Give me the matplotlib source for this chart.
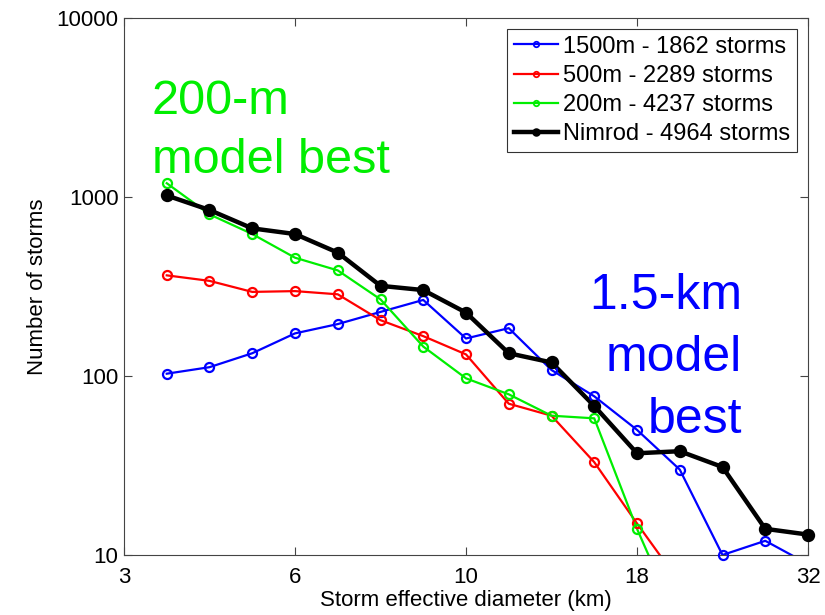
import numpy as np
import matplotlib.pyplot as plt

# diameter bins are plotted by bin number; ticks every 4 bins
bins = np.arange(1, 17)
tick_pos = [0, 4, 8, 12, 16]
tick_labels = ["3", "6", "10", "18", "32"]

nan = np.nan
storms_1500m = [103, 112, 134, 173, 195, 228, 266, 162, 185, 108, 77, 50, 30, 10, 12, 8.9]
storms_500m = [365, 340, 295, 298, 286, 205, 167, 132, 70, 60, 33, 15, 7, nan, nan, nan]
storms_200m = [1194, 800, 621, 458, 389, 268, 146, 97, 79, 60, 58, 14, 4, nan, nan, nan]
storms_nimrod = [1020, 846, 668, 621, 489, 319, 302, 226, 134, 119, 68, 37, 38, 31, 14, 13]

labels = ["1500m - 1862 storms", "500m - 2289 storms",
          "200m - 4237 storms", "Nimrod - 4964 storms"]

fig = plt.figure(figsize=(8.25, 6.15), dpi=100)
ax = fig.add_axes([0.1503, 0.0976, 0.8291, 0.8731])
ax.set_yscale("log")
ax.set_xlim(0, 16)
ax.set_ylim(10, 10000)

series = [
    (storms_1500m, "#0000ff", 1.6, "none", 6.5),
    (storms_500m, "#ff0000", 1.6, "none", 6.5),
    (storms_200m, "#00ee00", 1.6, "none", 6.5),
    (storms_nimrod, "black", 3.2, "black", 8),
]

handles = []
for (vals, col, lw, mfc, ms), lab in zip(series, labels):
    vals = np.array(vals, dtype=float)
    ax.plot(bins, vals, "-", color=col, lw=lw)
    shown = np.where(vals >= 10, vals, nan)
    ax.plot(bins, shown, "o", mfc=mfc, mec=col, mew=1.6, ms=ms, clip_on=False, zorder=3)
    h, = ax.plot([], [], "o-", color=col, lw=lw, mfc=mfc, mec=col, mew=1.3, ms=ms * 0.6)
    handles.append(h)

ax.set_xticks(tick_pos)
ax.set_xticklabels(tick_labels)
ax.set_yticks([10, 100, 1000, 10000])
ax.set_yticklabels(["10", "100", "1000", "10000"])
ax.minorticks_off()
ax.tick_params(direction="in", length=6, width=0.8, color="#444444",
               top=True, right=True, labelsize=16, pad=4)
ax.tick_params(axis="x", pad=9)
for lab in ax.get_xticklabels() + ax.get_yticklabels():
    lab.set_fontfamily("Liberation Sans")
for sp in ax.spines.values():
    sp.set_color("#444444")
    sp.set_linewidth(0.8)

ax.set_xlabel("Storm effective diameter (km)", fontsize=16, family="Liberation Sans", labelpad=1)
ax.set_ylabel("Number of storms", fontsize=16, family="Liberation Sans", labelpad=6)

leg = ax.legend(handles, labels, loc="upper right", prop={"family": "Liberation Sans", "size": 17},
                frameon=True, fancybox=False, edgecolor="black", handlelength=1.9,
                handletextpad=0.2, labelspacing=0.3, borderpad=0.3, borderaxespad=0.45)
leg.get_frame().set_linewidth(0.8)

fig.text(152 / 825, 1 - 173 / 615, "200-m\nmodel best", color="#00ee00", fontsize=35,
         family="Liberation Sans", ha="left", va="baseline", linespacing=1.4)
fig.text(742 / 825, 1 - 433 / 615, "1.5-km\nmodel\nbest", color="#0000ff", fontsize=36,
         family="Liberation Sans", ha="right", va="baseline", multialignment="right", linespacing=1.45)

fig.savefig("out.png", dpi=100)
